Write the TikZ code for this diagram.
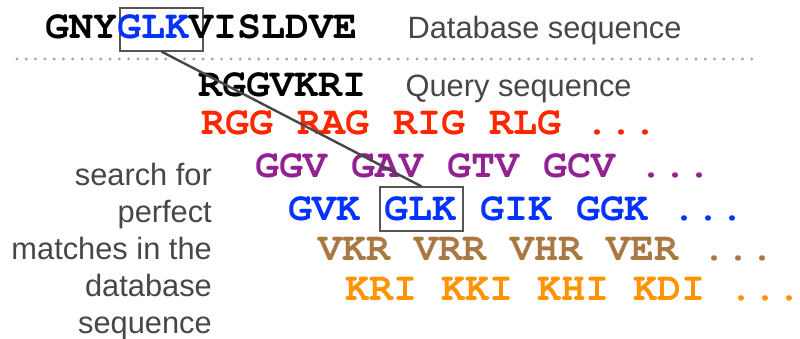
\documentclass[tikz,border=0pt]{standalone}
\usepackage{fontspec}
\setmainfont{Liberation Sans}
\newfontfamily\seqfont{TeX Gyre Cursor}
\usepackage{xcolor}
\usepackage{tikz}
\usetikzlibrary{positioning}

\definecolor{seqred}{HTML}{FF2600}
\definecolor{seqplum}{HTML}{942193}
\definecolor{seqblue}{HTML}{0433FF}
\definecolor{seqtan}{HTML}{AA7942}
\definecolor{seqorange}{HTML}{FF9300}
\definecolor{notegray}{HTML}{474747}
\definecolor{boxgray}{HTML}{555555}

\begin{document}
\begin{tikzpicture}[
  x=1pt, y=-1pt,
  every node/.style={inner sep=0pt, anchor=base west},
  seq/.style={font=\seqfont\bfseries\fontsize{40}{40}\selectfont},
  note/.style={font=\fontsize{30.8}{37}\selectfont, text=notegray},
  hitbox/.style={draw=boxgray, line width=1.2pt, minimum width=83pt, minimum height=43pt, anchor=center},
  link/.style={draw=notegray, line width=2.4pt},
  sep/.style={draw=gray!70, line width=3.2pt, line cap=round, dash pattern=on 0pt off 9.3pt}
]
  \useasboundingbox (0,0) rectangle (800,339);

  \node[hitbox] (dbhit) at (161.5,29.5) {};
  \node[hitbox, minimum height=44pt] (qhit) at (421.5,209) {};

  \node[seq] (dbseq) at (45,39) {GNY{\color{seqblue}GLK}VISLDVE};
  \node[note, base right=50pt of dbseq] (dblabel) {Database sequence};

  \coordinate (sepL) at (17,59);
  \coordinate (sepR) at (760,59);
  \draw[sep] (sepL) -- (sepR);

  \node[seq] (qseq) at (198,97) {RGGVKRI};
  \node[note, base right=39pt of qseq] (qlabel) {Query sequence};

  \node[seq, text=seqred] (words1) at (201,135) {RGG RAG RIG RLG ...};
  \node[seq, text=seqplum] (words2) at (255,178) {GGV GAV GTV GCV ...};
  \node[seq, text=seqblue] (words3) at (288,220) {GVK GLK GIK GGK ...};
  \node[seq, text=seqtan] (words4) at (318,260) {VKR VRR VHR VER ...};
  \node[seq, text=seqorange] (words5) at (345,300) {KRI KKI KHI KDI ...};

  \node[note, align=right, anchor=base east] (search) at (212,333)
    {search for\\perfect\\matches in the\\database\\sequence};

  \draw[link] (dbhit.south) -- (qhit.north);
\end{tikzpicture}
\end{document}
